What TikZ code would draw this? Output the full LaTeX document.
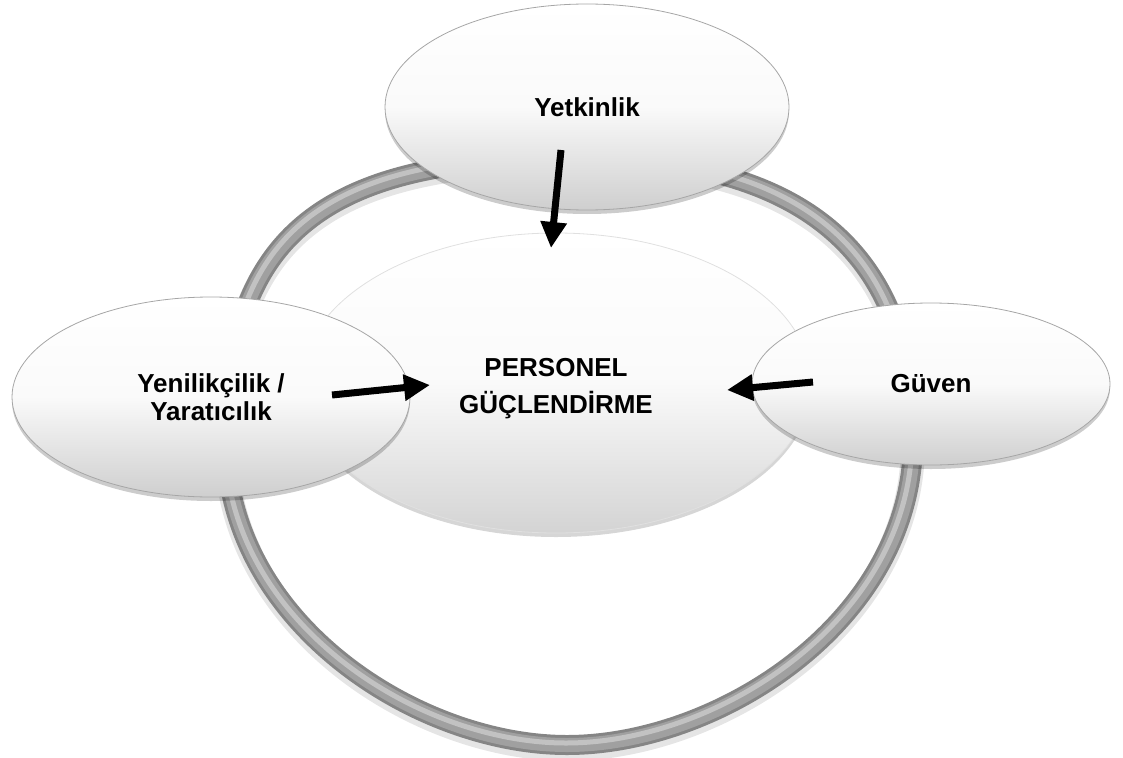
\documentclass[tikz,border=0pt]{standalone}
\usepackage{fontspec}
\setmainfont{Liberation Sans}
\usetikzlibrary{arrows.meta,shadows,shapes.geometric}
\definecolor{ringdark}{HTML}{858585}
\definecolor{ringmid}{HTML}{A0A0A0}
\definecolor{ringlight}{HTML}{C2C2C2}
\definecolor{ellrim}{HTML}{A6A6A6}
\tikzset{
  bubble/.style={ellipse, draw=ellrim, line width=0.8pt, inner sep=0pt,
    top color=white, bottom color=black!19, middle color=black!2,
    drop shadow={shadow xshift=0pt, shadow yshift=-4pt, opacity=0.2, fill=black},
    font=\fontsize{26}{28}\selectfont\bfseries, align=center},
  centrebubble/.style={ellipse, draw=black!12, line width=0.8pt, inner sep=0pt,
    top color=white, bottom color=black!17, middle color=black!2,
    drop shadow={shadow xshift=0pt, shadow yshift=-4pt, opacity=0.16, fill=black},
    font=\fontsize{26}{37}\selectfont\bfseries, align=center},
  bigarrow/.style={line width=7pt, -{Triangle[length=26pt,width=25pt]}},
}
\begin{document}
\begin{tikzpicture}[x=1pt,y=-1pt]
\useasboundingbox (0,0) rectangle (1123,757);
% ring
\def\ringpath{(575,158) .. controls (800,158) and (913,250) .. (913,440)
  .. controls (913,620) and (720,745) .. (567,745)
  .. controls (415,745) and (225,620) .. (226,440)
  .. controls (226,230) and (330,158) .. cycle}
\draw[line width=24pt, black!10, shift={(0,4)}] \ringpath;
\draw[line width=20pt, ringdark] \ringpath;
\draw[line width=14pt, ringmid] \ringpath;
\draw[line width=5pt, ringlight, shift={(-1,-2)}] \ringpath;
% nodes
\node[centrebubble, minimum width=510pt, minimum height=300pt] (pg) at (556,383)
  {\raisebox{-5pt}[\height][\depth]{\begin{tabular}{@{}c@{}}PERSONEL\\GÜÇLENDİRME\end{tabular}}};
\node[bubble, minimum width=398pt, minimum height=200pt] (yy) at (211,397) {Yenilikçilik /\\Yaratıcılık};
\node[bubble, minimum width=404pt, minimum height=206pt] (yt) at (587,107) {Yetkinlik};
\node[bubble, minimum width=358pt, minimum height=162pt] (gv) at (931,384) {Güven};
% arrow end points
\coordinate (ytS) at (561,150);
\coordinate (ytE) at (551,248);
\coordinate (yyS) at (332,395);
\coordinate (yyE) at (430,385);
\coordinate (gvS) at (813,382);
\coordinate (gvE) at (727,390);
\draw[bigarrow] (ytS) -- (ytE);
\draw[bigarrow] (yyS) -- (yyE);
\draw[bigarrow] (gvS) -- (gvE);
\end{tikzpicture}
\end{document}
